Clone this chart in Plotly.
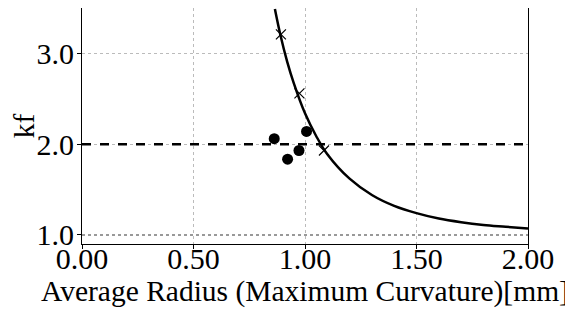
import plotly.graph_objects as go

# Fitted curve
curve_x = [0.865, 0.89, 0.92, 0.95, 1.0, 1.05, 1.1, 1.2, 1.3, 1.4, 1.5, 1.6, 1.7, 1.8, 1.9, 2.0]
curve_y = [3.49, 3.20, 2.91, 2.67, 2.34, 2.09, 1.89, 1.62, 1.44, 1.32, 1.24, 1.18, 1.14, 1.11, 1.09, 1.07]

# X-marked points on the curve
cross_x = [0.892, 0.975, 1.085]
cross_y = [3.21, 2.56, 1.93]

# Measured points (circles)
dot_x = [0.862, 0.922, 0.973, 1.007]
dot_y = [2.06, 1.835, 1.93, 2.14]

# Reference lines
ref_dash_y = 2.0
ref_dot_y = 1.0
x_range = [0.0, 2.0]
y_range = [0.9, 3.5]

xticks = [0.0, 0.5, 1.0, 1.5, 2.0]
yticks = [1.0, 2.0, 3.0]

font = "Liberation Serif"
fs = 30
fs_title = 29.5

fig = go.Figure()
fig.add_trace(go.Scatter(x=x_range, y=[ref_dot_y, ref_dot_y], mode="lines",
                         line=dict(color="#999999", width=2, dash="dot"), showlegend=False))
fig.add_trace(go.Scatter(x=x_range, y=[ref_dash_y, ref_dash_y], mode="lines",
                         line=dict(color="black", width=2.5, dash="dash"), showlegend=False))
fig.add_trace(go.Scatter(x=curve_x, y=curve_y, mode="lines", line_shape="spline",
                         line=dict(color="black", width=2.5), showlegend=False))
fig.add_trace(go.Scatter(x=cross_x, y=cross_y, mode="markers",
                         marker=dict(symbol="x-thin", size=10, line=dict(color="black", width=1.2)),
                         showlegend=False))
fig.add_trace(go.Scatter(x=dot_x, y=dot_y, mode="markers",
                         marker=dict(symbol="circle", size=11, color="black"), showlegend=False))

fig.update_layout(
    width=565, height=304,
    margin=dict(l=74, r=45, t=0, b=68, autoexpand=False),
    plot_bgcolor="white", paper_bgcolor="white",
    font=dict(family=font, size=fs, color="black"),
)
fig.update_xaxes(range=x_range, tickvals=xticks, tickformat=".2f",
                 showline=True, linecolor="black", linewidth=1, mirror=True,
                 ticks="outside", ticklen=4, tickcolor="black", ticklabelstandoff=-16,
                 showgrid=True, gridcolor="#bbbbbb", griddash="dot", gridwidth=1,
                 zeroline=False, automargin=True,
                 title=dict(text="Average Radius (Maximum Curvature)[mm]", standoff=0,
                            font=dict(family=font, size=fs_title)),
                 tickfont=dict(family=font, size=fs))
fig.update_yaxes(range=y_range, tickvals=yticks, tickformat=".1f",
                 showline=True, linecolor="black", linewidth=1, mirror=True,
                 ticks="outside", ticklen=4, tickcolor="black", ticklabelstandoff=-3,
                 showgrid=True, gridcolor="#bbbbbb", griddash="dot", gridwidth=1,
                 zeroline=False, automargin=True,
                 title=dict(text="kf", standoff=14, font=dict(family=font, size=fs_title)),
                 tickfont=dict(family=font, size=fs))

fig.write_html("out.html")
